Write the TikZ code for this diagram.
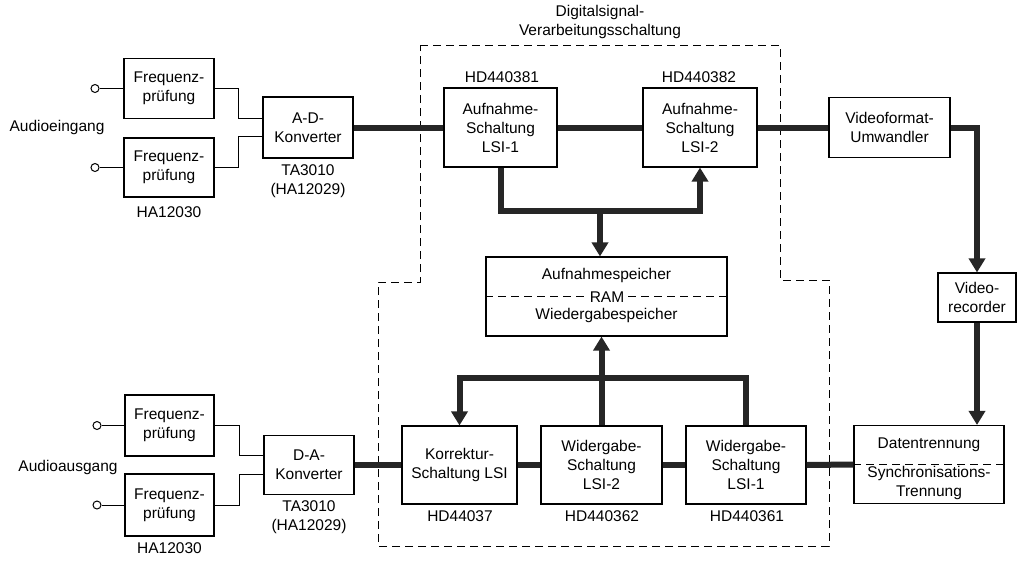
\documentclass[tikz,border=0pt]{standalone}
\usepackage{fontspec}
\setmainfont{Liberation Sans}
\usetikzlibrary{arrows.meta,calc}
\newcommand{\blockfont}{\fontsize{15.5}{19}\selectfont}

\begin{document}
\begin{tikzpicture}[x=1pt, y=-1pt, >={Triangle[width=16pt,length=14pt]},
  block/.style={draw, line width=1.1pt, align=center, inner sep=0pt, font=\blockfont},
  bus/.style={line width=6pt, draw=black!85, line join=miter},
  wire/.style={line width=1pt},
  terminal/.style={draw, circle, line width=1pt, minimum size=8pt, inner sep=0pt},
  lbl/.style={align=center, inner sep=0pt, font=\blockfont},
  frame/.style={dash pattern=on 8pt off 5pt, line width=1pt}]
  \useasboundingbox (0,0) rectangle (1024,562);

  % Digital signal processing frame
  \draw[frame] (420,45) -- (780,45) -- (780,280) -- (829,280) -- (829,546)
    -- (378,546) -- (378,282) -- (420,282) -- cycle;
  \node[lbl] (titel) at (600,22) {Digitalsignal-\\Verarbeitungsschaltung};

  % Recording side
  \node[terminal] (tA) at (95,88.5) {};
  \node[terminal] (tB) at (95,167.5) {};
  \node[block, minimum width=90pt, minimum height=60pt] (fqA) at (169,88.5) {Frequenz-\\prüfung};
  \node[block, minimum width=90pt, minimum height=59pt] (fqB) at (169,167.5) {Frequenz-\\prüfung};
  \node[lbl] (ein) at (57,127) {Audioeingang};
  \node[lbl] (haA) at (169,212) {HA12030};
  \node[block, minimum width=90pt, minimum height=61pt] (ad) at (308,127.5) {A-D-\\Konverter};
  \node[lbl] (taA) at (308,181) {TA3010\\(HA12029)};
  \node[block, minimum width=113pt, minimum height=79pt] (lsiA) at (500.5,127.5) {Aufnahme-\\Schaltung\\LSI-1};
  \node[lbl] (hdA) at (502,77) {HD440381};
  \node[block, minimum width=114pt, minimum height=79pt] (lsiB) at (700,127.5) {Aufnahme-\\Schaltung\\LSI-2};
  \node[lbl] (hdB) at (699,77) {HD440382};
  \node[block, minimum width=121pt, minimum height=60pt] (vfu) at (889.5,127.5) {Videoformat-\\Umwandler};
  \node[block, minimum width=78pt, minimum height=49pt] (vrec) at (977,297.5) {Video-\\recorder};

  % Memory
  \node[block, minimum width=241pt, minimum height=79pt] (ram) at (606.5,296.5) {};
  \draw[frame, line width=0.8pt] (ram.west) -- (ram.east);
  \node[lbl] (aufsp) at (606.5,275) {Aufnahmespeicher};
  \node[lbl, fill=white, inner sep=2pt] (ramt) at (607,297) {RAM};
  \node[lbl] (wiesp) at (606.5,315) {Wiedergabespeicher};

  % Playback side
  \node[terminal] (tC) at (97,425.5) {};
  \node[terminal] (tD) at (97,505) {};
  \node[block, minimum width=89pt, minimum height=61pt] (fqC) at (169.5,425.5) {Frequenz-\\prüfung};
  \node[block, minimum width=89pt, minimum height=62pt] (fqD) at (169.5,505) {Frequenz-\\prüfung};
  \node[lbl] (aus) at (68,467) {Audioausgang};
  \node[lbl] (haB) at (169.5,548) {HA12030};
  \node[block, minimum width=90pt, minimum height=59pt] (da) at (309,465) {D-A-\\Konverter};
  \node[lbl] (taB) at (309,517) {TA3010\\(HA12029)};
  \node[block, minimum width=115pt, minimum height=78pt] (korr) at (459.5,465) {Korrektur-\\Schaltung LSI};
  \node[lbl] (hdC) at (460,516) {HD44037};
  \node[block, minimum width=121pt, minimum height=78pt] (wgB) at (601.5,465) {Widergabe-\\Schaltung\\LSI-2};
  \node[lbl] (hdD) at (602,516) {HD440362};
  \node[block, minimum width=120pt, minimum height=78pt] (wgA) at (746,465) {Widergabe-\\Schaltung\\LSI-1};
  \node[lbl] (hdE) at (747,516) {HD440361};
  \node[block, minimum width=150pt, minimum height=78pt] (dtr) at (929,464.5) {};
  \draw[frame, line width=0.8pt] (dtr.west) -- (dtr.east);
  \node[lbl] (dtrA) at (929,445) {Datentrennung};
  \node[lbl] (dtrB) at (929,483) {Synchronisations-\\Trennung};

  % Thin wires
  \draw[wire] (tA) -- (fqA);
  \draw[wire] (tB) -- (fqB);
  \draw[wire] (fqA.east) -- ++(24,0) |- ($(ad.west)+(0,-9)$);
  \draw[wire] (fqB.east) -- ++(24,0) |- ($(ad.west)+(0,9)$);
  \draw[wire] (tC) -- (fqC);
  \draw[wire] (tD) -- (fqD);
  \draw[wire] (fqC.east) -- ++(25,0) |- ($(da.west)+(0,-9.5)$);
  \draw[wire] (fqD.east) -- ++(25,0) |- ($(da.west)+(0,9.5)$);

  % Data busses
  \coordinate (jA) at (600,211);
  \coordinate (jB) at (601.5,378);
  \draw[bus] (ad.east) -- (lsiA.west);
  \draw[bus] (lsiA.east) -- (lsiB.west);
  \draw[bus] (lsiB.east) -- (vfu.west);
  \draw[bus,->] (vfu.east) -| (vrec.north);
  \draw[bus,->] (vrec.south) -- (vrec.south |- dtr.north);
  \draw[bus,->] (lsiA.south) |- (jA) -| (lsiB.south);
  \draw[bus,->] (jA) -- (jA |- ram.north);
  \draw[bus,->] (wgA.north) |- (jB) -| (korr.north);
  \draw[bus,->] (wgB.north) -- (wgB.north |- ram.south);
  \draw[bus] (da.east) -- (korr.west);
  \draw[bus] (korr.east) -- (wgB.west);
  \draw[bus] (wgB.east) -- (wgA.west);
  \draw[bus] (wgA.east) -- (dtr.west);
\end{tikzpicture}
\end{document}
